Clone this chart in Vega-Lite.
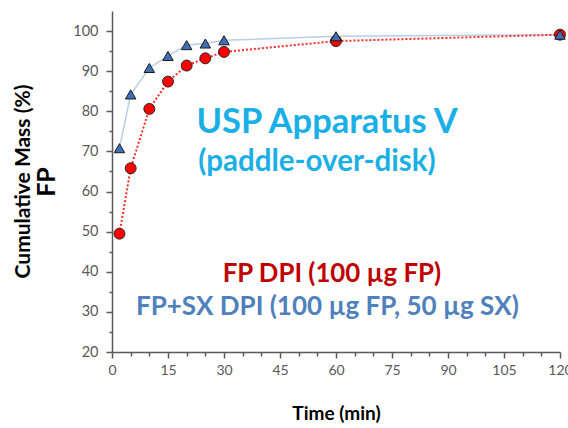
{
  "$schema": "https://vega.github.io/schema/vega-lite/v6.json",
  "width": 448,
  "height": 341,
  "autosize": "none",
  "padding": {"left": 112, "top": 11, "right": 8, "bottom": 76},
  "background": "white",
  "config": {"view": {"stroke": null}, "font": "Lato"},
  "title": {"text": "Cumulative Mass (%)", "orient": "left", "anchor": "middle", "fontSize": 21, "fontWeight": "bold", "color": "#000000", "font": "Lato", "offset": 1},
  "data": {"values": [
    {"t": 2, "pct": 70.8, "series": "FP+SX"},
    {"t": 5, "pct": 84.2, "series": "FP+SX"},
    {"t": 10, "pct": 90.8, "series": "FP+SX"},
    {"t": 15, "pct": 93.8, "series": "FP+SX"},
    {"t": 20, "pct": 96.5, "series": "FP+SX"},
    {"t": 25, "pct": 96.9, "series": "FP+SX"},
    {"t": 30, "pct": 97.7, "series": "FP+SX"},
    {"t": 60, "pct": 98.7, "series": "FP+SX"},
    {"t": 120, "pct": 99.1, "series": "FP+SX"},
    {"t": 2, "pct": 49.5, "series": "FP"},
    {"t": 5, "pct": 65.8, "series": "FP"},
    {"t": 10, "pct": 80.6, "series": "FP"},
    {"t": 15, "pct": 87.4, "series": "FP"},
    {"t": 20, "pct": 91.4, "series": "FP"},
    {"t": 25, "pct": 93.2, "series": "FP"},
    {"t": 30, "pct": 94.8, "series": "FP"},
    {"t": 60, "pct": 97.5, "series": "FP"},
    {"t": 120, "pct": 99.1, "series": "FP"}
  ]},
  "encoding": {
    "x": {"field": "t", "type": "quantitative", "title": "Time (min)",
      "scale": {"domain": [0, 120], "nice": false, "zero": false},
      "axis": {"values": [0,5,10,15,20,25,30,35,40,45,50,55,60,65,70,75,80,85,90,95,100,105,110,115,120],
        "labelExpr": "datum.value % 15 === 0 ? datum.label : ''",
        "labelFlush": false, "labelOverlap": false,
        "tickSize": {"condition": {"test": "datum.value % 15 === 0", "value": 6}, "value": 4},
        "grid": false, "domainColor": "#595959", "tickColor": "#595959", "domainWidth": 1.5, "tickWidth": 1.5,
        "labelColor": "#595959", "labelFontSize": 14, "labelPadding": 5, "labelFont": "Lato",
        "titleFontSize": 19, "titleFontWeight": "bold", "titleColor": "#000000", "titlePadding": 27, "titleFont": "Lato"}},
    "y": {"field": "pct", "type": "quantitative", "title": "FP",
      "scale": {"domain": [20, 105], "nice": false, "zero": false},
      "axis": {"values": [20,25,30,35,40,45,50,55,60,65,70,75,80,85,90,95,100],
        "labelExpr": "datum.value % 10 === 0 ? datum.label : ''",
        "labelFlush": false, "labelOverlap": false,
        "tickSize": {"condition": {"test": "datum.value % 10 === 0", "value": 6}, "value": 3},
        "grid": false, "domainColor": "#595959", "tickColor": "#595959", "domainWidth": 1.5, "tickWidth": 1.5,
        "labelColor": "#595959", "labelFontSize": 14.5, "labelPadding": 8, "labelFont": "Lato",
        "titleFontSize": 25, "titleFontWeight": "bold", "titleColor": "#000000", "titlePadding": 13, "titleFont": "Lato"}}
  },
  "layer": [
    {
      "transform": [{"filter": "datum.series === 'FP+SX'"}],
      "mark": {"type": "line", "color": "#B9CDE5", "strokeWidth": 1.5}
    },
    {
      "transform": [{"filter": "datum.series === 'FP'"}],
      "mark": {"type": "line", "color": "#FF2A2A", "strokeWidth": 2, "strokeDash": [2, 2]}
    },
    {
      "transform": [{"filter": "datum.series === 'FP'"}],
      "mark": {"type": "point", "shape": "circle", "filled": true, "fill": "#FF0000", "stroke": "#262626", "strokeWidth": 1, "size": 120, "opacity": 1}
    },
    {
      "transform": [{"filter": "datum.series === 'FP+SX'"}],
      "mark": {"type": "point", "shape": "triangle-up", "filled": true, "fill": "#3F70B5", "stroke": "#1A1A1A", "strokeWidth": 1, "size": 110, "opacity": 1}
    },
    {
      "data": {"values": [{"label": "USP Apparatus V", "t": 57.6, "pct": 77.1}]},
      "mark": {"type": "text", "font": "Lato", "fontWeight": "bold", "fontSize": 34.5, "color": "#1AAFE6", "align": "center", "baseline": "middle"},
      "encoding": {"text": {"field": "label"}}
    },
    {
      "data": {"values": [{"label": "(paddle-over-disk)", "t": 54.9, "pct": 67.3}]},
      "mark": {"type": "text", "font": "Lato", "fontWeight": "bold", "fontSize": 29.5, "color": "#1AAFE6", "align": "center", "baseline": "middle"},
      "encoding": {"text": {"field": "label"}}
    },
    {
      "data": {"values": [{"label": "FP DPI (100 µg FP)", "t": 58.9, "pct": 39.4}]},
      "mark": {"type": "text", "font": "Lato", "fontWeight": "bold", "fontSize": 25.8, "color": "#C00000", "align": "center", "baseline": "middle"},
      "encoding": {"text": {"field": "label"}}
    },
    {
      "data": {"values": [{"label": "FP+SX DPI (100 µg FP, 50 µg SX)", "t": 57.7, "pct": 31.2}]},
      "mark": {"type": "text", "font": "Lato", "fontWeight": "bold", "fontSize": 26, "color": "#4F81BD", "align": "center", "baseline": "middle"},
      "encoding": {"text": {"field": "label"}}
    }
  ]
}
